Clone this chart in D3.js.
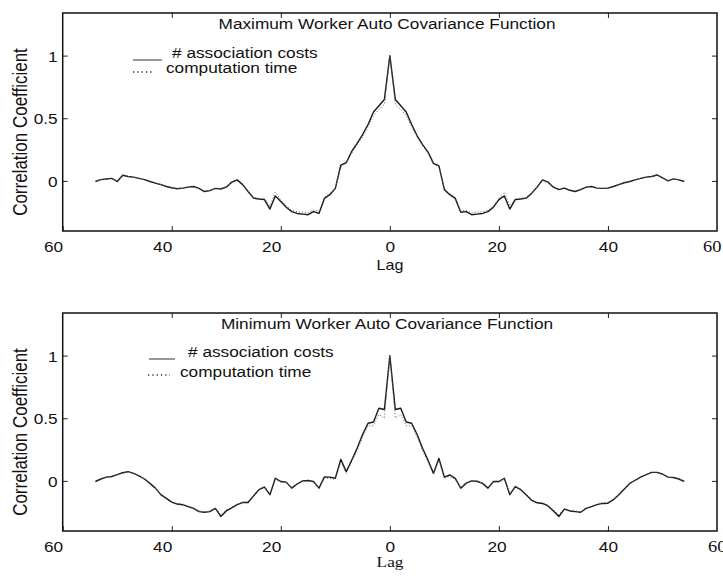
<!DOCTYPE html>
<html lang="en">
<head>
<meta charset="UTF-8">
<title>Worker Auto Covariance Function</title>
<script src="https://d3js.org/d3.v7.min.js"></script>
<style>
  body { margin: 0; background: #fff; }
  svg { display: block; background: #fff; font-family: "Liberation Sans", Arial, Helvetica, sans-serif; }
</style>
</head>
<body>
<svg id="canvas" width="723" height="579"></svg>
<script>
// lags -54 .. 54
const lags = d3.range(-54, 55)

// maximum worker, # association costs (solid)
const maxAssoc = [
  -0.005, 0.01, 0.015, 0.02, -0.005, 0.045, 0.035, 0.03, 0.02, 0.01,
  -0.005, -0.018, -0.03, -0.045, -0.055, -0.063, -0.058, -0.05, -0.045, -0.06,
  -0.085, -0.078, -0.06, -0.065, -0.05, -0.01, 0.008, -0.03, -0.085, -0.138,
  -0.145, -0.15, -0.225, -0.12, -0.165, -0.21, -0.245, -0.26, -0.265, -0.27,
  -0.245, -0.26, -0.14, -0.11, -0.06, 0.125, 0.145, 0.235, 0.30, 0.37,
  0.45, 0.55, 0.60, 0.65,
  1.0,
  0.65, 0.60, 0.55, 0.45, 0.36, 0.29, 0.23, 0.14, 0.12, -0.07,
  -0.11, -0.14, -0.25, -0.245, -0.27, -0.265, -0.26, -0.245, -0.21, -0.15,
  -0.12, -0.225, -0.15, -0.145, -0.138, -0.10, -0.05, 0.008, -0.01, -0.05,
  -0.07, -0.058, -0.075, -0.085, -0.07, -0.05, -0.045, -0.058, -0.06, -0.058,
  -0.045, -0.03, -0.015, -0.005, 0.008, 0.02, 0.03, 0.035, 0.047, 0.025,
  0.0, 0.016, 0.008, -0.005
]
// maximum worker, computation time (dotted)
const maxComp = [
  -0.005, 0.012, 0.012, 0.022, -0.002, 0.04, 0.035, 0.028, 0.022, 0.008,
  -0.008, -0.02, -0.028, -0.042, -0.058, -0.06, -0.055, -0.048, -0.05, -0.062,
  -0.08, -0.075, -0.062, -0.06, -0.045, -0.015, 0.0, -0.035, -0.08, -0.13,
  -0.14, -0.14, -0.2, -0.09, -0.15, -0.2, -0.235, -0.245, -0.25, -0.255,
  -0.235, -0.24, -0.13, -0.1, -0.06, 0.11, 0.14, 0.22, 0.29, 0.35,
  0.43, 0.52, 0.57, 0.61,
  1.0,
  0.61, 0.57, 0.52, 0.43, 0.35, 0.28, 0.22, 0.135, 0.11, -0.06,
  -0.1, -0.13, -0.24, -0.235, -0.255, -0.25, -0.245, -0.235, -0.2, -0.14,
  -0.09, -0.2, -0.14, -0.14, -0.13, -0.09, -0.045, 0.0, -0.015, -0.045,
  -0.065, -0.055, -0.07, -0.08, -0.065, -0.048, -0.042, -0.055, -0.058, -0.055,
  -0.042, -0.028, -0.012, -0.002, 0.01, 0.022, 0.028, 0.035, 0.045, 0.022,
  0.002, 0.014, 0.01, -0.005
]
// minimum worker, # association costs (solid)
const minAssoc = [
  -0.005, 0.015, 0.03, 0.035, 0.05, 0.065, 0.074, 0.06, 0.04, 0.015,
  -0.02, -0.058, -0.11, -0.14, -0.17, -0.185, -0.19, -0.205, -0.22, -0.245,
  -0.25, -0.245, -0.22, -0.284, -0.24, -0.215, -0.19, -0.173, -0.173, -0.12,
  -0.07, -0.05, -0.11, 0.021, -0.005, -0.01, -0.058, -0.025, 0.0, 0.003,
  -0.005, -0.058, 0.032, 0.03, 0.021, 0.172, 0.074, 0.165, 0.26, 0.37,
  0.46, 0.47, 0.58, 0.57,
  1.0,
  0.57, 0.58, 0.47, 0.46, 0.37, 0.26, 0.165, 0.06, 0.18, 0.03,
  0.047, 0.02, -0.058, -0.018, 0.0, -0.003, -0.02, -0.058, -0.005, -0.005,
  0.021, -0.11, -0.045, -0.07, -0.11, -0.155, -0.175, -0.18, -0.2, -0.24,
  -0.284, -0.225, -0.24, -0.245, -0.25, -0.22, -0.205, -0.19, -0.18, -0.178,
  -0.15, -0.11, -0.065, -0.02, 0.005, 0.03, 0.05, 0.068, 0.068, 0.055,
  0.03, 0.027, 0.015, -0.005
]
// minimum worker, computation time (dotted)
const minComp = [
  -0.005, 0.018, 0.028, 0.038, 0.048, 0.062, 0.07, 0.058, 0.038, 0.012,
  -0.022, -0.06, -0.105, -0.135, -0.165, -0.18, -0.185, -0.2, -0.215, -0.24,
  -0.245, -0.24, -0.215, -0.27, -0.23, -0.21, -0.185, -0.17, -0.165, -0.115,
  -0.065, -0.045, -0.1, 0.01, -0.01, -0.015, -0.05, -0.02, -0.005, 0.0,
  -0.01, -0.05, 0.02, 0.02, 0.01, 0.15, 0.06, 0.15, 0.24, 0.35,
  0.44, 0.44, 0.53, 0.5,
  1.0,
  0.5, 0.53, 0.44, 0.44, 0.35, 0.24, 0.15, 0.05, 0.16, 0.02,
  0.035, 0.012, -0.05, -0.02, -0.005, -0.008, -0.018, -0.05, -0.01, -0.01,
  0.01, -0.1, -0.04, -0.065, -0.105, -0.15, -0.17, -0.175, -0.195, -0.23,
  -0.27, -0.22, -0.235, -0.24, -0.245, -0.215, -0.2, -0.185, -0.175, -0.172,
  -0.145, -0.105, -0.06, -0.018, 0.008, 0.032, 0.05, 0.064, 0.066, 0.052,
  0.03, 0.025, 0.014, -0.005
]

const xTicks = [-60, -40, -20, 0, 20, 40]
const yTicks = [0, 0.5, 1]
const titles = ["Maximum Worker Auto Covariance Function", "Minimum Worker Auto Covariance Function"]
const legendLabels = ["# association costs", "computation time"]

const svg = d3.select("#canvas")
const left = 62.7, right = 717
const plotH = 218
const sx = 1.15 // the picture is a little wider than tall

// text with a slight horizontal stretch around its anchor point
function addText(parent, x, y, str, size, anchor, family) {
    let g = parent.append("g").attr("transform", "translate(" + x + "," + y + ")")
    g.append("text")
        .attr("transform", "scale(" + sx + ",1)")
        .attr("text-anchor", anchor || "start")
        .style("font-size", size + "px")
        .style("font-family", family || null)
        .attr("fill", "#111")
        .text(str)
    return g
}

const panels = [
    {top: 13, title: titles[0], assoc: maxAssoc, comp: maxComp,
     leg: {lineX: [133, 162], lineY: 47, t1: [172, 45], dotX: [133, 154], dotY: 59, t2: [166, 60]},
     lagSerif: false, sixtyX: 703},
    {top: 313, title: titles[1], assoc: minAssoc, comp: minComp,
     leg: {lineX: [149, 175], lineY: 46, t1: [188, 43.5], dotX: [148, 170], dotY: 62, t2: [180, 64]},
     lagSerif: true, sixtyX: 708}
]

const x = d3.scaleLinear().domain([-60, 60]).range([left, right])

panels.forEach(p => {
    let y = d3.scaleLinear().domain([-0.4, 1.34]).range([p.top + plotH, p.top])
    let bottom = p.top + plotH
    let g = svg.append("g")

    // curves: solid first, dotted on top
    let line = d3.line().x((d, i) => x(lags[i])).y(d => y(d))
    g.append("path").datum(p.assoc)
        .attr("d", line)
        .attr("fill", "none").attr("stroke", "#1a1a1a").attr("stroke-width", 1.4)
        .attr("stroke-linejoin", "round")
    g.append("path").datum(p.comp)
        .attr("d", line)
        .attr("fill", "none").attr("stroke", "#666").attr("stroke-width", 1)
        .attr("stroke-dasharray", "1,2")

    // axes, ticks pointing in
    let xb = g.append("g").attr("transform", "translate(0," + bottom + ")")
        .call(d3.axisBottom(x).tickValues(xTicks).tickSize(-5).tickFormat(d => Math.abs(d)))
    g.append("g").attr("transform", "translate(0," + p.top + ")")
        .call(d3.axisTop(x).tickValues(xTicks.slice(1)).tickSize(-5).tickFormat(""))
    let yl = g.append("g").attr("transform", "translate(" + left + ",0)")
        .call(d3.axisLeft(y).tickValues(yTicks).tickSize(-5).tickPadding(5).tickFormat(d3.format("")))
    g.append("g").attr("transform", "translate(" + right + ",0)")
        .call(d3.axisRight(y).tickValues(yTicks).tickSize(-5).tickFormat(""))

    g.selectAll(".domain").remove()
    g.selectAll(".tick line").attr("stroke", "#222").attr("stroke-width", 1)

    xb.selectAll(".tick text")
        .attr("y", 21).attr("dy", 0)
        .attr("text-anchor", d => d < 0 ? "end" : "middle")
        .attr("x", d => d === 20 ? -2 : 0)
        .attr("transform", "scale(" + sx + ",1)")
        .style("font-size", "15px").attr("fill", "#111")
    yl.selectAll(".tick text")
        .attr("dy", "0.36em")
        .attr("transform", "translate(-5,0) scale(" + sx + ",1)")
        .attr("x", 0)
        .style("font-size", "15px").attr("fill", "#111")

    // right-most 60 is in a serif face
    addText(g, p.sixtyX, bottom + 21, "60", 16, "start", "'Liberation Serif', 'Times New Roman', serif")

    // frame
    g.append("rect")
        .attr("x", left).attr("y", p.top)
        .attr("width", right - left).attr("height", plotH)
        .attr("fill", "none").attr("stroke", "#111").attr("stroke-width", 1.5)

    // title
    addText(g, 387, p.top + 16, p.title, 15, "middle")

    // legend
    let L = p.leg
    g.append("line")
        .attr("x1", L.lineX[0]).attr("x2", L.lineX[1])
        .attr("y1", p.top + L.lineY).attr("y2", p.top + L.lineY)
        .attr("stroke", "#333").attr("stroke-width", 1)
    addText(g, L.t1[0], p.top + L.t1[1], legendLabels[0], 15, "start")
    g.append("line")
        .attr("x1", L.dotX[0]).attr("x2", L.dotX[1])
        .attr("y1", p.top + L.dotY).attr("y2", p.top + L.dotY)
        .attr("stroke", "#333").attr("stroke-width", 1.3)
        .attr("stroke-dasharray", "1.3,3")
    addText(g, L.t2[0], p.top + L.t2[1], legendLabels[1], 15, "start")

    // axis titles
    let yc = (y(-0.4) + y(1.34)) / 2
    svg.append("text")
        .attr("transform", "translate(27," + (yc + 10) + ") rotate(-90) scale(1," + sx + ")")
        .attr("text-anchor", "middle")
        .style("font-size", "17px").attr("fill", "#111")
        .text("Correlation Coefficient")

    if (p.lagSerif) {
        addText(g, 390, bottom + 36, "Lag", 15, "middle", "'Liberation Serif', 'Times New Roman', serif")
    } else {
        addText(g, 390, bottom + 39, "Lag", 14, "middle")
    }
})
</script>
</body>
</html>
